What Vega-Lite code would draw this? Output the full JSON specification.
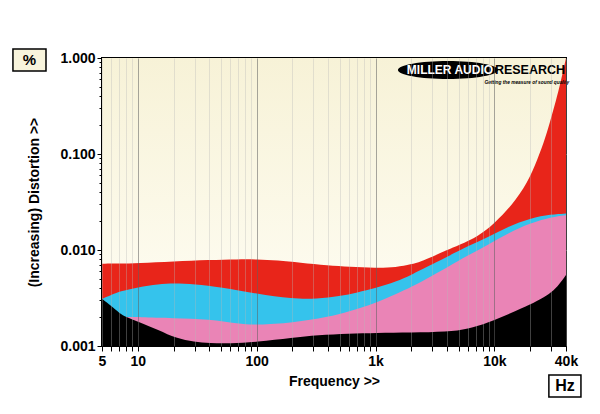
{
  "$schema": "https://vega.github.io/schema/vega-lite/v6.json",
  "width": 464,
  "height": 288,
  "autosize": {"type": "none"},
  "padding": {"left": 102, "top": 58, "right": 34, "bottom": 68},
  "background": "white",
  "config": {
    "view": {"stroke": "#000000", "strokeWidth": 2},
    "font": "Liberation Sans",
    "axis": {"labelFont": "Liberation Sans", "titleFont": "Liberation Sans", "labelFontWeight": "bold", "titleFontWeight": "bold", "labelColor": "#000", "titleColor": "#000", "labelFontSize": 14, "titleFontSize": 14}
  },
  "datasets": {
    "curves": [
      {"s": "red", "f": 5, "v": 0.0072}, {"s": "red", "f": 7, "v": 0.0072}, {"s": "red", "f": 10, "v": 0.0073}, {"s": "red", "f": 20, "v": 0.0076}, {"s": "red", "f": 40, "v": 0.0079}, {"s": "red", "f": 70, "v": 0.008}, {"s": "red", "f": 100, "v": 0.008}, {"s": "red", "f": 150, "v": 0.0078}, {"s": "red", "f": 230, "v": 0.0074}, {"s": "red", "f": 400, "v": 0.0069}, {"s": "red", "f": 600, "v": 0.0067}, {"s": "red", "f": 1000, "v": 0.0065}, {"s": "red", "f": 1500, "v": 0.0066}, {"s": "red", "f": 2000, "v": 0.0071}, {"s": "red", "f": 2400, "v": 0.0076}, {"s": "red", "f": 3000, "v": 0.0085}, {"s": "red", "f": 4000, "v": 0.01}, {"s": "red", "f": 5000, "v": 0.0112}, {"s": "red", "f": 7400, "v": 0.014}, {"s": "red", "f": 10000, "v": 0.019}, {"s": "red", "f": 14000, "v": 0.029}, {"s": "red", "f": 19000, "v": 0.05}, {"s": "red", "f": 23000, "v": 0.087}, {"s": "red", "f": 27000, "v": 0.15}, {"s": "red", "f": 30000, "v": 0.24}, {"s": "red", "f": 33000, "v": 0.36}, {"s": "red", "f": 36000, "v": 0.56}, {"s": "red", "f": 38500, "v": 0.8}, {"s": "red", "f": 39500, "v": 0.93}, {"s": "red", "f": 40000, "v": 1.0},
      {"s": "cyan", "f": 5, "v": 0.0031}, {"s": "cyan", "f": 6, "v": 0.0034}, {"s": "cyan", "f": 7, "v": 0.0037}, {"s": "cyan", "f": 10, "v": 0.0041}, {"s": "cyan", "f": 15, "v": 0.0044}, {"s": "cyan", "f": 20, "v": 0.0045}, {"s": "cyan", "f": 30, "v": 0.0044}, {"s": "cyan", "f": 50, "v": 0.0041}, {"s": "cyan", "f": 100, "v": 0.0035}, {"s": "cyan", "f": 200, "v": 0.0031}, {"s": "cyan", "f": 320, "v": 0.0031}, {"s": "cyan", "f": 500, "v": 0.0033}, {"s": "cyan", "f": 700, "v": 0.0036}, {"s": "cyan", "f": 1000, "v": 0.004}, {"s": "cyan", "f": 1500, "v": 0.0047}, {"s": "cyan", "f": 2000, "v": 0.0055}, {"s": "cyan", "f": 2400, "v": 0.0062}, {"s": "cyan", "f": 3000, "v": 0.0071}, {"s": "cyan", "f": 4000, "v": 0.0085}, {"s": "cyan", "f": 6000, "v": 0.011}, {"s": "cyan", "f": 8800, "v": 0.0136}, {"s": "cyan", "f": 13000, "v": 0.0175}, {"s": "cyan", "f": 20000, "v": 0.0215}, {"s": "cyan", "f": 30000, "v": 0.0235}, {"s": "cyan", "f": 40000, "v": 0.024},
      {"s": "pink", "f": 5, "v": 0.002}, {"s": "pink", "f": 8, "v": 0.002}, {"s": "pink", "f": 10, "v": 0.002}, {"s": "pink", "f": 20, "v": 0.00195}, {"s": "pink", "f": 40, "v": 0.0019}, {"s": "pink", "f": 70, "v": 0.0017}, {"s": "pink", "f": 100, "v": 0.00165}, {"s": "pink", "f": 200, "v": 0.00175}, {"s": "pink", "f": 400, "v": 0.002}, {"s": "pink", "f": 600, "v": 0.0023}, {"s": "pink", "f": 1000, "v": 0.0028}, {"s": "pink", "f": 1500, "v": 0.0035}, {"s": "pink", "f": 2000, "v": 0.0041}, {"s": "pink", "f": 3000, "v": 0.0054}, {"s": "pink", "f": 4000, "v": 0.0066}, {"s": "pink", "f": 6000, "v": 0.0088}, {"s": "pink", "f": 8800, "v": 0.0113}, {"s": "pink", "f": 13000, "v": 0.015}, {"s": "pink", "f": 20000, "v": 0.019}, {"s": "pink", "f": 30000, "v": 0.022}, {"s": "pink", "f": 40000, "v": 0.023},
      {"s": "black", "f": 5, "v": 0.0031}, {"s": "black", "f": 6, "v": 0.0026}, {"s": "black", "f": 7, "v": 0.0022}, {"s": "black", "f": 8, "v": 0.002}, {"s": "black", "f": 10, "v": 0.0018}, {"s": "black", "f": 15, "v": 0.00147}, {"s": "black", "f": 21, "v": 0.0012}, {"s": "black", "f": 30, "v": 0.0011}, {"s": "black", "f": 40, "v": 0.00107}, {"s": "black", "f": 60, "v": 0.00106}, {"s": "black", "f": 100, "v": 0.0011}, {"s": "black", "f": 200, "v": 0.00122}, {"s": "black", "f": 325, "v": 0.0013}, {"s": "black", "f": 600, "v": 0.00135}, {"s": "black", "f": 1000, "v": 0.00137}, {"s": "black", "f": 2000, "v": 0.00138}, {"s": "black", "f": 4000, "v": 0.0014}, {"s": "black", "f": 6000, "v": 0.0015}, {"s": "black", "f": 8800, "v": 0.00175}, {"s": "black", "f": 13800, "v": 0.0022}, {"s": "black", "f": 20000, "v": 0.0027}, {"s": "black", "f": 26000, "v": 0.0032}, {"s": "black", "f": 31800, "v": 0.0038}, {"s": "black", "f": 36000, "v": 0.0046}, {"s": "black", "f": 40000, "v": 0.0055}
    ]
  },
  "layer": [
    {
      "data": {"values": [{}]},
      "mark": {"type": "rect", "color": {"gradient": "linear", "x1": 0, "y1": 0, "x2": 0, "y2": 1, "stops": [{"offset": 0, "color": "#f7f2d7"}, {"offset": 1, "color": "#fffef6"}]}},
      "encoding": {
        "x": {"datum": 5, "type": "quantitative", "scale": {"type": "log", "domain": [5, 40000]},
          "axis": {
            "values": [5,6,7,8,9,10,20,30,40,50,60,70,80,90,100,200,300,400,500,600,700,800,900,1000,2000,3000,4000,5000,6000,7000,8000,9000,10000,20000,30000,40000],
            "labelExpr": "datum.value == 5 ? '5' : datum.value == 10 ? '10' : datum.value == 100 ? '100' : datum.value == 1000 ? '1k' : datum.value == 10000 ? '10k' : datum.value == 40000 ? '40k' : ''",
            "labelOverlap": false, "labelFlush": false, "labelPadding": 3,
            "domain": false, "tickSize": 5, "tickColor": "#000",
            "grid": true,
            "gridColor": {"condition": {"test": "datum.value == 10 || datum.value == 100 || datum.value == 1000 || datum.value == 10000", "value": "#606060"}, "value": "#b8b8b8"},
            "gridOpacity": {"condition": {"test": "datum.value == 10 || datum.value == 100 || datum.value == 1000 || datum.value == 10000", "value": 0.55}, "value": 0.35},
            "zindex": 1,
            "title": "Frequency >>", "titlePadding": 6
          }
        },
        "x2": {"datum": 40000},
        "y": {"datum": 1, "type": "quantitative", "scale": {"type": "log", "domain": [0.001, 1]},
          "axis": {
            "values": [0.001,0.002,0.003,0.004,0.005,0.006,0.007,0.008,0.009,0.01,0.02,0.03,0.04,0.05,0.06,0.07,0.08,0.09,0.1,0.2,0.3,0.4,0.5,0.6,0.7,0.8,0.9,1],
            "labelExpr": "datum.value == 0.001 ? '0.001' : datum.value == 0.01 ? '0.010' : datum.value == 0.1 ? '0.100' : datum.value == 1 ? '1.000' : ''",
            "labelOverlap": false, "labelFlush": false, "labelPadding": 2, "labelBaseline": "middle",
            "domain": false, "tickColor": "#000",
            "tickSize": {"condition": {"test": "datum.value == 0.001 || datum.value == 0.01 || datum.value == 0.1 || datum.value == 1", "value": 5}, "value": 3},
            "grid": true, "gridColor": "#8a8a8a",
            "gridOpacity": {"condition": {"test": "datum.value == 0.01 || datum.value == 0.1", "value": 1}, "value": 0},
            "title": "(Increasing) Distortion >>", "titlePadding": 18
          }
        },
        "y2": {"datum": 0.001}
      }
    },
    {
      "data": {"name": "curves"},
      "transform": [{"filter": "datum.s == 'red'"}],
      "mark": {"type": "area", "color": "#e8251a", "interpolate": "basis"},
      "encoding": {"x": {"field": "f", "type": "quantitative", "scale": {"type": "log", "domain": [5, 40000]}}, "y": {"field": "v", "type": "quantitative", "scale": {"type": "log", "domain": [0.001, 1]}}, "y2": {"datum": 0.001}}
    },
    {
      "data": {"name": "curves"},
      "transform": [{"filter": "datum.s == 'cyan'"}],
      "mark": {"type": "area", "color": "#35c3ec", "interpolate": "basis"},
      "encoding": {"x": {"field": "f", "type": "quantitative", "scale": {"type": "log", "domain": [5, 40000]}}, "y": {"field": "v", "type": "quantitative", "scale": {"type": "log", "domain": [0.001, 1]}}, "y2": {"datum": 0.001}}
    },
    {
      "data": {"name": "curves"},
      "transform": [{"filter": "datum.s == 'pink'"}],
      "mark": {"type": "area", "color": "#ea84b6", "interpolate": "basis"},
      "encoding": {"x": {"field": "f", "type": "quantitative", "scale": {"type": "log", "domain": [5, 40000]}}, "y": {"field": "v", "type": "quantitative", "scale": {"type": "log", "domain": [0.001, 1]}}, "y2": {"datum": 0.001}}
    },
    {
      "data": {"name": "curves"},
      "transform": [{"filter": "datum.s == 'black'"}],
      "mark": {"type": "area", "color": "#000000", "interpolate": "basis"},
      "encoding": {"x": {"field": "f", "type": "quantitative", "scale": {"type": "log", "domain": [5, 40000]}}, "y": {"field": "v", "type": "quantitative", "scale": {"type": "log", "domain": [0.001, 1]}}, "y2": {"datum": 0.001}}
    },
    {
      "data": {"values": [{}]},
      "mark": {"type": "point", "shape": "M-1,0 A1,0.18 0 1,1 1,0 A1,0.18 0 1,1 -1,0 Z", "filled": true, "color": "#000", "opacity": 1, "size": 10000},
      "encoding": {"x": {"datum": 4064, "type": "quantitative", "scale": {"type": "log", "domain": [5, 40000]}}, "y": {"datum": 0.75, "type": "quantitative", "scale": {"type": "log", "domain": [0.001, 1]}}}
    },
    {
      "data": {"values": [{}]},
      "mark": {"type": "text", "text": "MILLER AUDIO", "color": "#ffffff", "font": "Liberation Sans", "fontWeight": "bold", "fontSize": 12, "align": "center", "baseline": "middle"},
      "encoding": {"x": {"datum": 4227, "type": "quantitative", "scale": {"type": "log", "domain": [5, 40000]}}, "y": {"datum": 0.75, "type": "quantitative", "scale": {"type": "log", "domain": [0.001, 1]}}}
    },
    {
      "data": {"values": [{}]},
      "mark": {"type": "text", "text": "RESEARCH", "color": "#000000", "font": "Liberation Sans", "fontWeight": "bold", "fontSize": 12.5, "align": "center", "baseline": "middle"},
      "encoding": {"x": {"datum": 19900, "type": "quantitative", "scale": {"type": "log", "domain": [5, 40000]}}, "y": {"datum": 0.75, "type": "quantitative", "scale": {"type": "log", "domain": [0.001, 1]}}}
    },
    {
      "data": {"values": [{}]},
      "mark": {"type": "text", "text": "Getting the measure of sound quality", "color": "#000000", "font": "Liberation Sans", "fontWeight": "bold", "fontStyle": "italic", "fontSize": 4.8, "align": "center", "baseline": "middle"},
      "encoding": {"x": {"datum": 18760, "type": "quantitative", "scale": {"type": "log", "domain": [5, 40000]}}, "y": {"datum": 0.55, "type": "quantitative", "scale": {"type": "log", "domain": [0.001, 1]}}}
    },
    {
      "data": {"values": [{}]},
      "mark": {"type": "rect", "fill": "#f8f4dc", "stroke": "#000", "strokeWidth": 1.5, "clip": false},
      "encoding": {"x": {"datum": 0.891, "type": "quantitative", "scale": {"type": "log", "domain": [5, 40000]}}, "x2": {"datum": 1.69}, "y": {"datum": 1.241, "type": "quantitative", "scale": {"type": "log", "domain": [0.001, 1]}}, "y2": {"datum": 0.733}}
    },
    {
      "data": {"values": [{}]},
      "mark": {"type": "text", "text": "%", "color": "#000", "font": "Liberation Sans", "fontWeight": "bold", "fontSize": 15, "align": "center", "baseline": "middle"},
      "encoding": {"x": {"datum": 1.228, "type": "quantitative", "scale": {"type": "log", "domain": [5, 40000]}}, "y": {"datum": 0.953, "type": "quantitative", "scale": {"type": "log", "domain": [0.001, 1]}}}
    },
    {
      "data": {"values": [{}]},
      "mark": {"type": "rect", "fill": "#ffffff", "stroke": "#000", "strokeWidth": 1.5, "clip": false},
      "encoding": {"x": {"datum": 28710, "type": "quantitative", "scale": {"type": "log", "domain": [5, 40000]}}, "x2": {"datum": 53430}, "y": {"datum": 0.000499, "type": "quantitative", "scale": {"type": "log", "domain": [0.001, 1]}}, "y2": {"datum": 0.000294}}
    },
    {
      "data": {"values": [{}]},
      "mark": {"type": "text", "text": "Hz", "color": "#000", "font": "Liberation Sans", "fontWeight": "bold", "fontSize": 16, "align": "center", "baseline": "middle"},
      "encoding": {"x": {"datum": 39200, "type": "quantitative", "scale": {"type": "log", "domain": [5, 40000]}}, "y": {"datum": 0.000383, "type": "quantitative", "scale": {"type": "log", "domain": [0.001, 1]}}}
    }
  ]
}
